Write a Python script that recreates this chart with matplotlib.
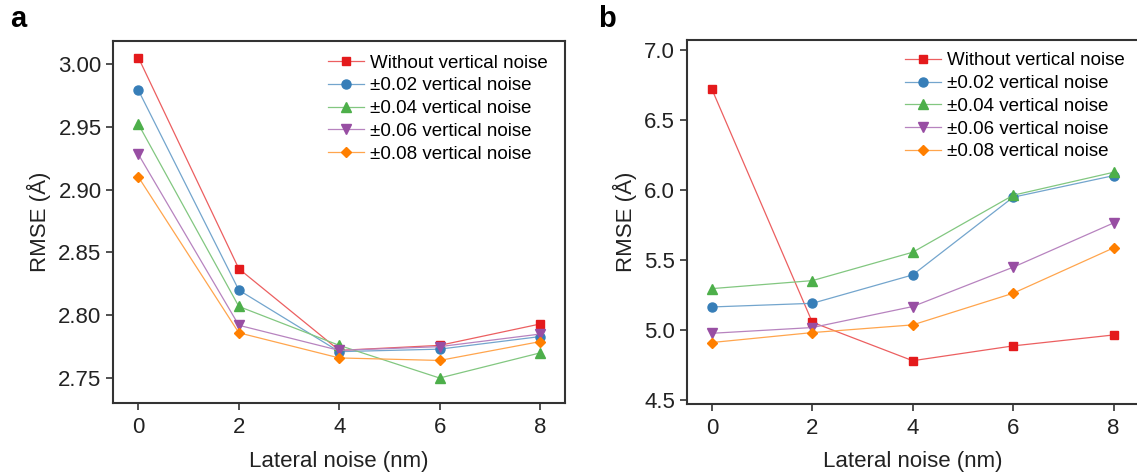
import matplotlib
matplotlib.use("Agg")
import matplotlib.pyplot as plt
from matplotlib.colors import to_rgb

plt.rcParams['font.family'] = ['Liberation Sans', 'DejaVu Sans']

lateral = [0, 2, 4, 6, 8]
labels = ['Without vertical noise', '±0.02 vertical noise', '±0.04 vertical noise',
          '±0.06 vertical noise', '±0.08 vertical noise']
colors = ['#e41a1c', '#377eb8', '#4daf4a', '#984ea3', '#ff7f00']
markers = ['s', 'o', '^', 'v', 'D']
msizes = [6, 6.5, 7, 7, 5.5]

# panel a
rmse_a = [
    [3.005, 2.837, 2.772, 2.776, 2.793],
    [2.979, 2.820, 2.771, 2.773, 2.783],
    [2.952, 2.807, 2.776, 2.750, 2.770],
    [2.928, 2.792, 2.772, 2.775, 2.785],
    [2.910, 2.786, 2.766, 2.764, 2.779],
]
# panel b
rmse_b = [
    [6.72, 5.055, 4.78, 4.886, 4.964],
    [5.164, 5.19, 5.393, 5.948, 6.102],
    [5.295, 5.352, 5.555, 5.962, 6.126],
    [4.976, 5.017, 5.167, 5.448, 5.764],
    [4.910, 4.981, 5.036, 5.262, 5.586],
]


def lighten(c, f=0.3):
    r, g, b = to_rgb(c)
    return (r + (1 - r) * f, g + (1 - g) * f, b + (1 - b) * f)


fig = plt.figure(figsize=(11.37, 4.74), dpi=100)
ax1 = fig.add_axes([0.0997, 0.1492, 0.3973, 0.7650])
ax2 = fig.add_axes([0.6040, 0.1477, 0.3975, 0.7680])


def draw(ax, data, ylim, yticks, fmt, leg_anchor):
    for vals, lab, c, m, ms in zip(data, labels, colors, markers, msizes):
        ax.plot(lateral, vals, color=lighten(c), lw=0.9, marker=m,
                ms=ms, mfc=c, mec=c, label=lab)
    ax.set_xlim(-0.5, 8.5)
    ax.set_ylim(*ylim)
    ax.set_xticks(lateral)
    ax.set_yticks(yticks)
    ax.set_yticklabels([fmt % t for t in yticks])
    ax.tick_params(direction='out', length=5, width=1.2, labelsize=16,
                   color='#333333', labelcolor='#222222')
    ax.tick_params(axis='x', pad=5)
    for s in ax.spines.values():
        s.set_linewidth(1.5)
        s.set_color('#333333')
    ax.set_xlabel('Lateral noise (nm)', fontsize=16, labelpad=9, color='#222222')
    ax.set_ylabel('RMSE (Å)', fontsize=16, labelpad=5, color='#222222')
    ax.legend(loc='upper left', bbox_to_anchor=leg_anchor, frameon=False,
              fontsize=13.5, handlelength=1.9, handletextpad=0.35,
              labelspacing=0.3, borderpad=0, borderaxespad=0)


draw(ax1, rmse_a, (2.7299, 3.0186), [2.75, 2.80, 2.85, 2.90, 2.95, 3.00], '%.2f',
     (0.475, 0.962))
draw(ax2, rmse_b, (4.471, 7.071), [4.5, 5.0, 5.5, 6.0, 6.5, 7.0], '%.1f',
     (0.483, 0.966))
ax2.spines['right'].set_visible(False)

fig.text(0.0088, 0.943, 'a', fontsize=21, fontweight='bold')
fig.text(0.526, 0.943, 'b', fontsize=21, fontweight='bold')

fig.savefig('out.png', dpi=100)
